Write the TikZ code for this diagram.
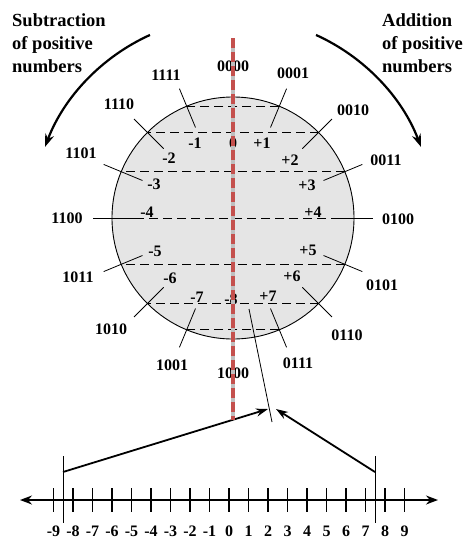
\documentclass[tikz,border=0pt]{standalone}
\usepackage{fontspec}
\setmainfont{Liberation Serif}
\usetikzlibrary{arrows.meta}
\definecolor{axisred}{RGB}{196,80,77}

\begin{document}
\begin{tikzpicture}[x=1pt, y=1pt,
    lbl/.style={font=\fontsize{16}{19}\selectfont\bfseries, inner sep=1pt},
    note/.style={font=\fontsize{18.5}{23}\selectfont\bfseries, align=left, inner sep=0pt, anchor=north west},
    chord/.style={draw, dash pattern=on 9pt off 5pt, line width=0.8pt},
    leader/.style={line width=0.8pt},
    bigarrow/.style={line width=1.8pt, -{Stealth[length=12pt, width=8pt]}},
    turn/.style={line width=2.2pt, -{Stealth[length=13pt, width=9pt]}}]
  \useasboundingbox (0,0) rectangle (474,-555);

  % the wheel
  \node[draw, circle, fill=black!10, line width=0.9pt, minimum size=242pt, inner sep=0pt] (wheel) at (233,-218) {};
  \begin{scope}[shift={(233,-218)}]
    \foreach \a in {-67.5,-45,-22.5,0,22.5,45,67.5}
      \draw[chord] (\a:121) -- ({180-(\a)}:121);
    \foreach \k in {0,...,15} {
      \coordinate (in\k) at ({90-\k*22.5}:98);
      \coordinate (out\k) at ({90-\k*22.5}:140);
      \draw[leader] (in\k) -- (out\k);
    }
    \draw[turn] (114.4:201) arc[start angle=114.4, end angle=159.3, radius=201];
    \draw[turn] (65.6:201) arc[start angle=65.6, end angle=20.7, radius=201];
  \end{scope}

  % values inside
  \node[lbl] (z) at (233,-143) {0};
  \node[lbl] (m1) at (195,-143) {-1};
  \node[lbl] (p1) at (262,-143) {+1};
  \node[lbl] (m2) at (169,-158) {-2};
  \node[lbl] (p2) at (290,-160) {+2};
  \node[lbl] (m3) at (154,-184) {-3};
  \node[lbl] (p3) at (307,-185) {+3};
  \node[lbl] (m4) at (147,-212) {-4};
  \node[lbl] (p4) at (313,-212) {+4};
  \node[lbl] (m5) at (155,-251) {-5};
  \node[lbl] (p5) at (308,-250) {+5};
  \node[lbl] (m6) at (170,-278) {-6};
  \node[lbl] (p6) at (292,-276) {+6};
  \node[lbl] (m7) at (197,-297) {-7};
  \node[lbl] (p7) at (268,-296) {+7};
  \node[lbl] (m8) at (231,-299) {-8};

  % bit patterns
  \node[lbl] (b0000) at (233,-66) {0000};
  \node[lbl] (b0001) at (293,-73) {0001};
  \node[lbl] (b0010) at (353,-110) {0010};
  \node[lbl] (b0011) at (386,-160) {0011};
  \node[lbl] (b0100) at (398,-219) {0100};
  \node[lbl] (b0101) at (382,-285) {0101};
  \node[lbl] (b0110) at (347,-335) {0110};
  \node[lbl] (b0111) at (298,-363) {0111};
  \node[lbl] (b1000) at (233,-373) {1000};
  \node[lbl] (b1001) at (172,-365) {1001};
  \node[lbl] (b1010) at (111,-329) {1010};
  \node[lbl] (b1011) at (78,-277) {1011};
  \node[lbl] (b1100) at (67,-218) {1100};
  \node[lbl] (b1101) at (81,-153) {1101};
  \node[lbl] (b1110) at (119,-104) {1110};
  \node[lbl] (b1111) at (166,-75) {1111};

  \node[note] (sub) at (12,-13.5) {Subtraction\\of positive\\numbers};
  \node[note] (add) at (382,-13.5) {Addition\\of positive\\numbers};

  % number line
  \coordinate (lend) at (20,-500);
  \coordinate (rend) at (438,-500);
  \draw[line width=1.6pt, {Stealth[length=12pt, width=9pt]}-{Stealth[length=12pt, width=9pt]}] (lend) -- (rend);
  \foreach \n in {-9,...,9} {
    \draw[line width=1.8pt] ({229+19.5*\n},-488) -- ({229+19.5*\n},-512);
    \node[lbl] (t\n) at ({229+19.5*\n},-531) {\n};
  }

  % range markers and pointers
  \coordinate (lotop) at (63,-456);
  \coordinate (lobot) at (63,-523);
  \coordinate (hitop) at (375,-456);
  \coordinate (hibot) at (375,-523);
  \coordinate (lo) at (63,-472);
  \coordinate (hi) at (375,-472);
  \coordinate (meetL) at (268,-409);
  \coordinate (meetR) at (276,-409);
  \coordinate (ptr) at (249,-309);
  \coordinate (ptrend) at (272,-422);
  \draw[leader] (lotop) -- (lobot);
  \draw[leader] (hitop) -- (hibot);
  \draw[leader] (ptr) -- (ptrend);
  \draw[bigarrow] (lo) -- (meetL);
  \draw[bigarrow] (hi) -- (meetR);

  % zero axis
  \coordinate (ztop) at (233,-38);
  \coordinate (zbot) at (233,-420);
  \draw[line width=4.5pt, black!25] (ztop) -- (zbot);
  \draw[line width=4.5pt, axisred, dash pattern=on 10pt off 4pt] (ztop) -- (zbot);
\end{tikzpicture}
\end{document}
